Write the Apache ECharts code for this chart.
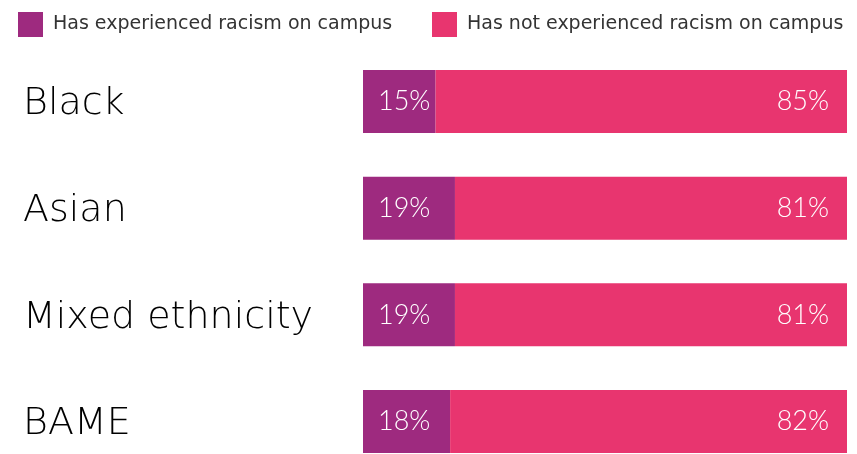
<!DOCTYPE html>
<html>
<head>
<meta charset="utf-8">
<script src="https://cdn.jsdelivr.net/npm/echarts@6/dist/echarts.min.js"></script>
<style>
  html, body { margin: 0; padding: 0; background: #fff; }
  #chart { width: 857px; height: 454px; }
</style>
</head>
<body>
<div id="chart"></div>
<script>
// Groups and shares (percent) of students answering each way
const categories = ['Black', 'Asian', 'Mixed ethnicity', 'BAME'];
const seriesNames = ['Has experienced racism on campus', 'Has not experienced racism on campus'];
const experienced = [15, 19, 19, 18];
const notExperienced = [85, 81, 81, 82];

const LABEL_FONT = 'DejaVu Sans';
const VALUE_FONT = 'Lato';
const chart = echarts.init(document.getElementById('chart'));

function legendAt(left, name) {
  return {
    left: left,
    top: 7,
    icon: 'rect',
    itemWidth: 25,
    itemHeight: 25,
    selectedMode: false,
    textStyle: {
      fontFamily: LABEL_FONT, fontSize: 19, color: '#333',
      padding: [0, 0, 0, 5]
    },
    data: [name]
  };
}

function valueLabel(position, distance) {
  return {
    show: true,
    position: position,
    distance: distance,
    formatter: '{c}%',
    fontFamily: VALUE_FONT,
    fontWeight: 300,
    fontSize: 27,
    color: '#fff'
  };
}

chart.setOption({
  animation: false,
  color: ['#9e2a7f', '#e8356f'],
  legend: [legendAt(13, seriesNames[0]), legendAt(427, seriesNames[1])],
  // categories sit on the grid edges so the rows fill the full height
  grid: { left: 363, right: 10, top: 101.5, bottom: 32.5 },
  xAxis: { type: 'value', min: 0, max: 100, show: false },
  yAxis: {
    type: 'category',
    inverse: true,
    boundaryGap: false,
    data: categories,
    axisLine: { show: false },
    axisTick: { show: false },
    splitLine: { show: false },
    axisLabel: {
      align: 'left',
      margin: 340,
      formatter: '{g|{value}}',
      rich: {
        g: {
          fontFamily: LABEL_FONT,
          fontWeight: 200,
          fontSize: 38,
          color: '#000',
          padding: [6, 0, 0, 0]
        }
      }
    }
  },
  series: [
    {
      name: seriesNames[0],
      type: 'bar',
      stack: 'total',
      barWidth: 63,
      clip: false,
      data: experienced,
      label: valueLabel('insideLeft', 15)
    },
    {
      name: seriesNames[1],
      type: 'bar',
      stack: 'total',
      barWidth: 63,
      clip: false,
      data: notExperienced,
      label: valueLabel('insideRight', 18)
    }
  ]
});
</script>
</body>
</html>
